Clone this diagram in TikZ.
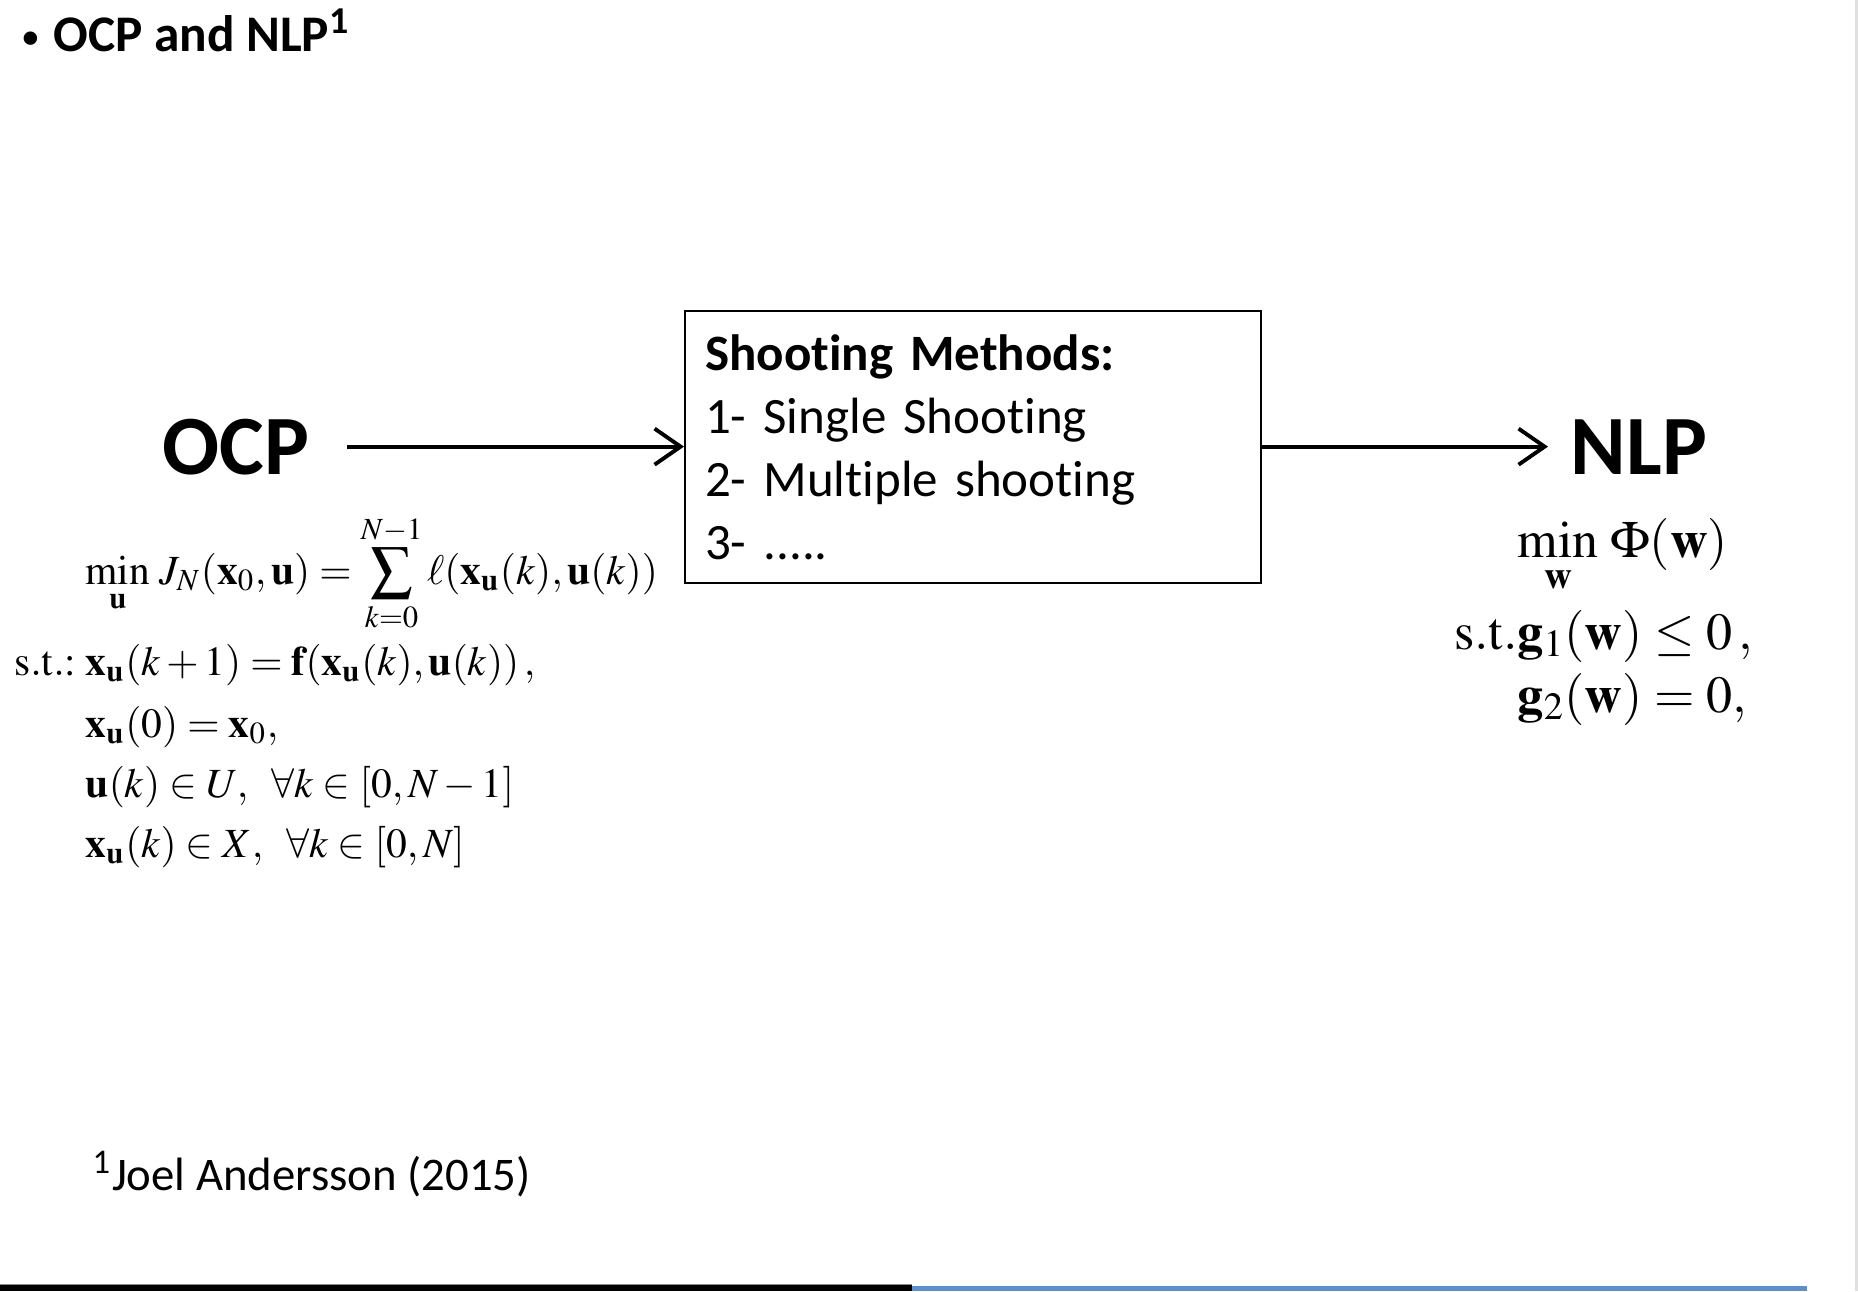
\documentclass[tikz,border=0pt]{standalone}
\usepackage{amsmath}
\usepackage{mathptmx}
\usepackage[no-math]{fontspec}
\setmainfont{Carlito}[Ligatures={NoCommon}]
\usetikzlibrary{arrows.meta,positioning}
\definecolor{slideblue}{RGB}{91,143,212}

\begin{document}
\begin{tikzpicture}[
  x=0.01cm, y=-0.01cm,
  heading/.style={anchor=base west, inner sep=0pt, font=\bfseries\fontsize{14.6}{17}\selectfont},
  probname/.style={anchor=base west, inner sep=0pt, font=\bfseries\fontsize{24}{28}\selectfont},
  methodbox/.style={draw, line width=0.6pt, anchor=north west, align=left,
    text width=5.36cm, inner xsep=0.2cm, minimum height=2.72cm,
    font=\fontsize{14.5}{17.9}\selectfont},
  ocpeq/.style={anchor=base west, inner sep=0pt, font=\fontsize{11.8}{14}\selectfont},
  nlpeq/.style={anchor=base west, inner sep=0pt, font=\fontsize{14.8}{18}\selectfont},
  flow/.style={-{Straight Barb[length=2.6mm, width=3.6mm]}, line width=1.1pt},
  note/.style={anchor=base west, inner sep=0pt, font=\fontsize{13.3}{16}\selectfont}
]
\useasboundingbox (0,0) rectangle (1858,1291);

\node[heading] (title) at (22,52) {{\fontsize{9}{9}\selectfont\raisebox{0.15em}{\textbullet}}\hspace{0.15cm}OCP and NLP\textsuperscript{1}};

\node[probname] (ocp) at (162,474) {OCP};
\node[probname] (nlp) at (1570,474) {NLP};
\node[methodbox] (shoot) at (684,310) {\textbf{Shooting Methods:}\\
  1- Single Shooting\\
  2- Multiple shooting\\
  3- .....};

\draw[flow] ([xshift=0.37cm]ocp.east) -- (shoot.west |- ocp.east);
\draw[flow] (shoot.east |- nlp.west) -- ([xshift=-0.22cm]nlp.west);

% OCP formulation
\node[ocpeq] (cost) at (85,584) {$\displaystyle \min_{\mathbf{u}}\, J_N(\mathbf{x}_0,\mathbf{u})
  = \sum_{k=0}^{N-1} \ell(\mathbf{x}_{\mathbf{u}}(k),\mathbf{u}(k))$};
\node[ocpeq] (dyn) at (85,675) {$\llap{$\mathrm{s.t.}\mathord{:}\;$}\mathbf{x}_{\mathbf{u}}(k+1)
  = \mathbf{f}(\mathbf{x}_{\mathbf{u}}(k),\mathbf{u}(k))\,,$};
\node[ocpeq] (init) at (85,737) {$\mathbf{x}_{\mathbf{u}}(0) = \mathbf{x}_0,$};
\node[ocpeq] (ucon) at (85,797) {$\mathbf{u}(k) \in U,\;\; \forall k \in [0, N-1]$};
\node[ocpeq] (xcon) at (85,857) {$\mathbf{x}_{\mathbf{u}}(k) \in X,\;\; \forall k \in [0, N]$};

% NLP formulation
\node[nlpeq] (obj) at (1517,557) {$\displaystyle \min_{\mathbf{w}}\, \Phi(\mathbf{w})$};
\node[nlpeq] (ineq) at (1517,649) {$\llap{$\mathrm{s.t.}$}\mathbf{g}_1(\mathbf{w}) \le 0\,,$};
\node[nlpeq] (eq) at (1517,712) {$\mathbf{g}_2(\mathbf{w}) = 0,$};

\node[note] (ref) at (92,1190) {\textsuperscript{1}Joel Andersson (2015)};

% slide footer and edge
\fill[black!45] (0,1284) rectangle (912,1285);
\fill[black] (0,1285) rectangle (912,1291);
\fill[slideblue] (912,1286) rectangle (1807,1291);
\fill[black!12] (1855,0) rectangle (1858,1291);
\end{tikzpicture}
\end{document}
